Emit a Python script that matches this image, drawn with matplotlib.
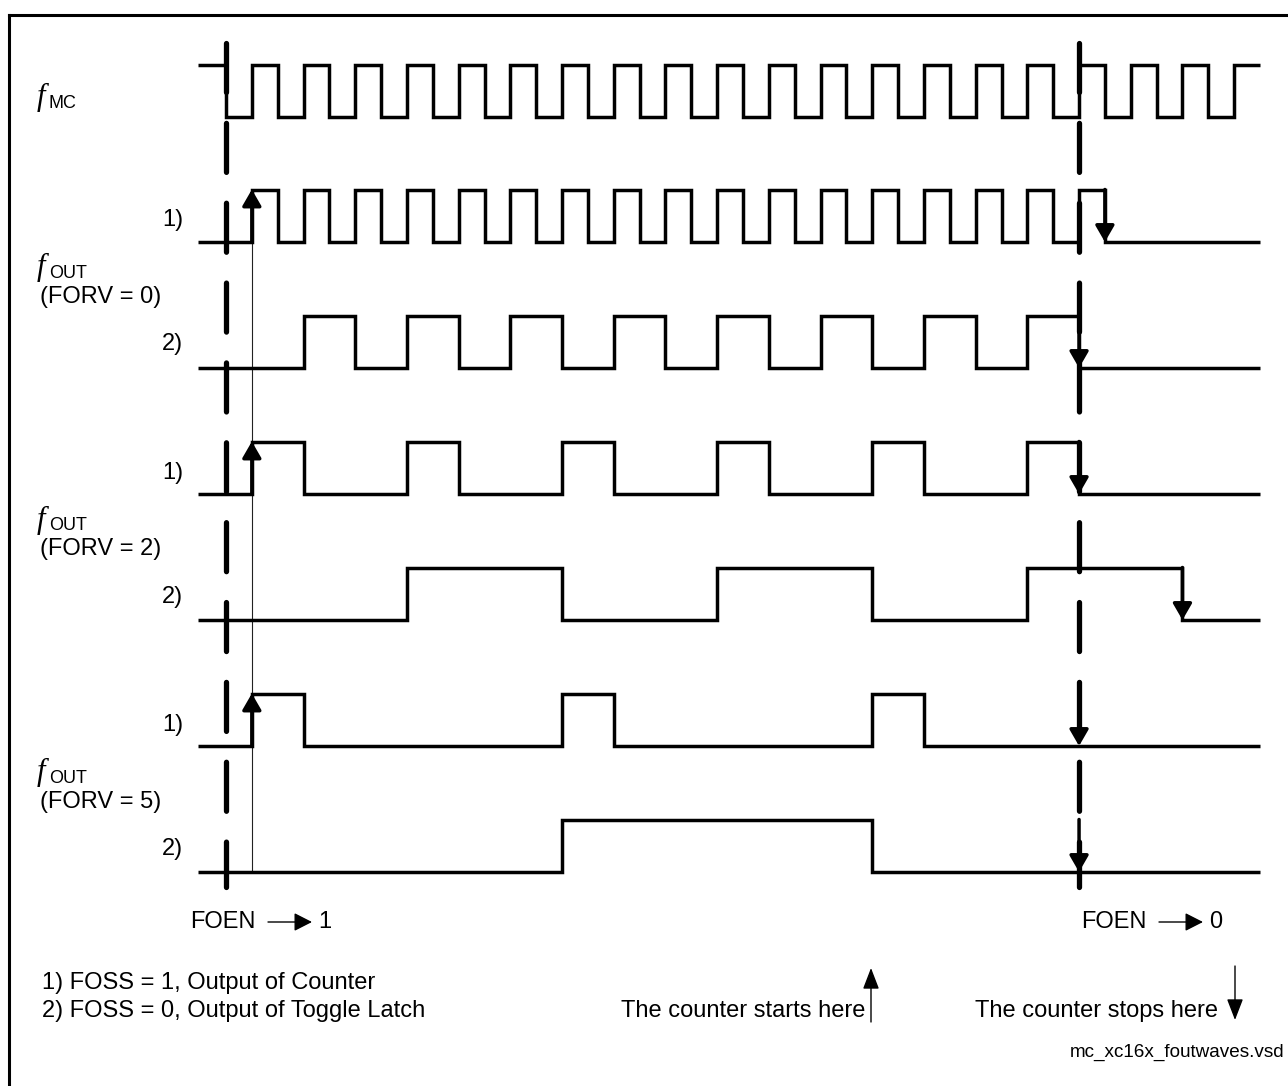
"""
Timing diagram: f_OUT waveforms for FORV = 0, 2, 5 (FOSS = 1 / FOSS = 0).
"""
import matplotlib
matplotlib.use('Agg')
import matplotlib.pyplot as plt
from matplotlib.lines import Line2D

W, H = 1288, 1086
plt.rcParams['font.family'] = ['Liberation Sans', 'DejaVu Sans']
plt.rcParams['lines.scale_dashes'] = False

# --- data (time unit = half a period of f_MC) ---
T_START, T_END = -1.1, 40.0
T_FOEN_ON, T_FOEN_OFF = 0, 33

fmc_edges = [0, 1, 2, 3, 4, 5, 6, 7, 8, 9, 10, 11, 12, 13, 14, 15, 16, 17, 18, 19,
             20, 21, 22, 23, 24, 25, 26, 27, 28, 29, 30, 31, 32, 33, 34, 35, 36, 37, 38, 39]
forv0_1_edges = [1, 2, 3, 4, 5, 6, 7, 8, 9, 10, 11, 12, 13, 14, 15, 16, 17,
                 18, 19, 20, 21, 22, 23, 24, 25, 26, 27, 28, 29, 30, 31, 32, 33, 34]
forv0_2_edges = [3, 5, 7, 9, 11, 13, 15, 17, 19, 21, 23, 25, 27, 29, 31, 33]
forv2_1_edges = [1, 3, 7, 9, 13, 15, 19, 21, 25, 27, 31, 33]
forv2_2_edges = [7, 13, 19, 25, 31, 37]
forv5_1_edges = [1, 3, 13, 15, 25, 27]
forv5_2_edges = [13, 25]

signal_edges = [fmc_edges, forv0_1_edges, forv0_2_edges, forv2_1_edges,
                forv2_2_edges, forv5_1_edges, forv5_2_edges]
start_levels = [1, 0, 0, 0, 0, 0, 0]

# arrows: (lane, time)
up_arrows = [(1, 1), (3, 1), (5, 1)]
down_arrows = [(1, 34), (2, 33), (3, 33), (4, 37), (5, 33), (6, 33)]

forv_values = [0, 2, 5]
legend_lines = ["1) FOSS = 1, Output of Counter",
                "2) FOSS = 0, Output of Toggle Latch"]
file_name = "mc_xc16x_foutwaves.vsd"

# --- layout (pixels) ---
PX0, PX_PER_T = 226, 25.85
LANE_LOW = [117, 242, 368, 494, 620, 746, 872]
AMP = 52.5
LW = 2.5

fig = plt.figure(figsize=(W / 100, H / 100), dpi=100)
ax = fig.add_axes([0, 0, 1, 1])
ax.set_xlim(-PX0 / PX_PER_T, (W - PX0) / PX_PER_T)
ax.set_ylim(H, 0)
ax.axis('off')


def level_y(lane, lvl):
    return LANE_LOW[lane] - AMP * lvl


# waveforms
for lane, (edges, lvl0) in enumerate(zip(signal_edges, start_levels)):
    xs = [T_START] + list(edges) + [T_END]
    lv = [lvl0]
    for _ in edges:
        lv.append(1 - lv[-1])
    lv.append(lv[-1])
    ys = [level_y(lane, v) for v in lv]
    ax.plot(xs, ys, drawstyle='steps-post', color='k', lw=LW,
            solid_joinstyle='miter', solid_capstyle='butt', zorder=3)

# thin marker line where the counter starts
ax.plot([1, 1], [level_y(1, 1), level_y(6, 0)], color='#222222', lw=0.8, zorder=2)

# FOEN dashed lines
for t in (T_FOEN_ON, T_FOEN_OFF):
    ax.plot([t, t], [42.5, 886.5], color='k', lw=3.8, dashes=(35.3, 22.2),
            dash_capstyle='round', zorder=4)

arrow_kw = dict(arrowstyle='-|>,head_length=0.45,head_width=0.26', mutation_scale=22,
                lw=LW, color='k', shrinkA=0, shrinkB=0)
for lane, t in up_arrows:
    ax.annotate('', xy=(t, level_y(lane, 1)), xytext=(t, level_y(lane, 0)),
                arrowprops=arrow_kw, zorder=5)
for lane, t in down_arrows:
    ax.annotate('', xy=(t, level_y(lane, 0)), xytext=(t, level_y(lane, 1)),
                arrowprops=arrow_kw, zorder=5)


def label(x, y, s, **kw):
    kw.setdefault('fontsize', 17)
    fig.text(x / W, 1 - y / H, s, **kw)


def f_label(x, y_base, sub):
    label(x, y_base - 3, 'f', family='Liberation Serif', style='italic',
          fontsize=22, va='baseline')
    label(x + 12, y_base, sub, fontsize=13, va='baseline')


f_label(37, 108, 'MC')
for k, fv in enumerate(forv_values):
    off = 252.5 * k
    label(183, 220 + off, '1)', ha='right', va='center')
    f_label(37, 278 + off, 'OUT')
    label(40, 297 + off, f'(FORV = {fv})', va='center')
    label(183, 344 + off, '2)', ha='right', va='center')

# FOEN annotations
small_arrow = dict(arrowstyle='-|>,head_length=0.55,head_width=0.28', mutation_scale=20,
                   lw=1.0, color='k', shrinkA=0, shrinkB=0)
for x0, val in ((190, '1'), (1081, '0')):
    label(x0, 922, 'FOEN', va='center')
    ax.annotate('', xy=(x0 + 122, H - 922), xytext=(x0 + 78, H - 922),
                xycoords='figure pixels', textcoords='figure pixels',
                arrowprops=small_arrow)
    label(x0 + 128, 922, val, va='center')

label(42, 983, legend_lines[0], va='center')
label(42, 1011, legend_lines[1], va='center')

tall_arrow = dict(arrowstyle='-|>,head_length=0.65,head_width=0.25', mutation_scale=20,
                  lw=1.0, color='k', shrinkA=0, shrinkB=0)
label(865, 1011, 'The counter starts here', ha='right', va='center')
ax.annotate('', xy=(871, H - 968), xytext=(871, H - 1022),
            xycoords='figure pixels', textcoords='figure pixels', arrowprops=tall_arrow)
label(975, 1011, 'The counter stops here', va='center')
ax.annotate('', xy=(1235, H - 1020), xytext=(1235, H - 966),
            xycoords='figure pixels', textcoords='figure pixels', arrowprops=tall_arrow)

label(1284, 1052, file_name, fontsize=13.6, ha='right', va='center')

# frame (right and bottom edges fall outside the picture)
fig.add_artist(Line2D([9 / W, 9 / W], [0, 1 - 15 / H], transform=fig.transFigure,
                      color='k', lw=2.2, solid_capstyle='projecting'))
fig.add_artist(Line2D([9 / W, 1], [1 - 15 / H, 1 - 15 / H], transform=fig.transFigure,
                      color='k', lw=2.2, solid_capstyle='projecting'))

fig.savefig('out.png', dpi=100)
plt.close(fig)
